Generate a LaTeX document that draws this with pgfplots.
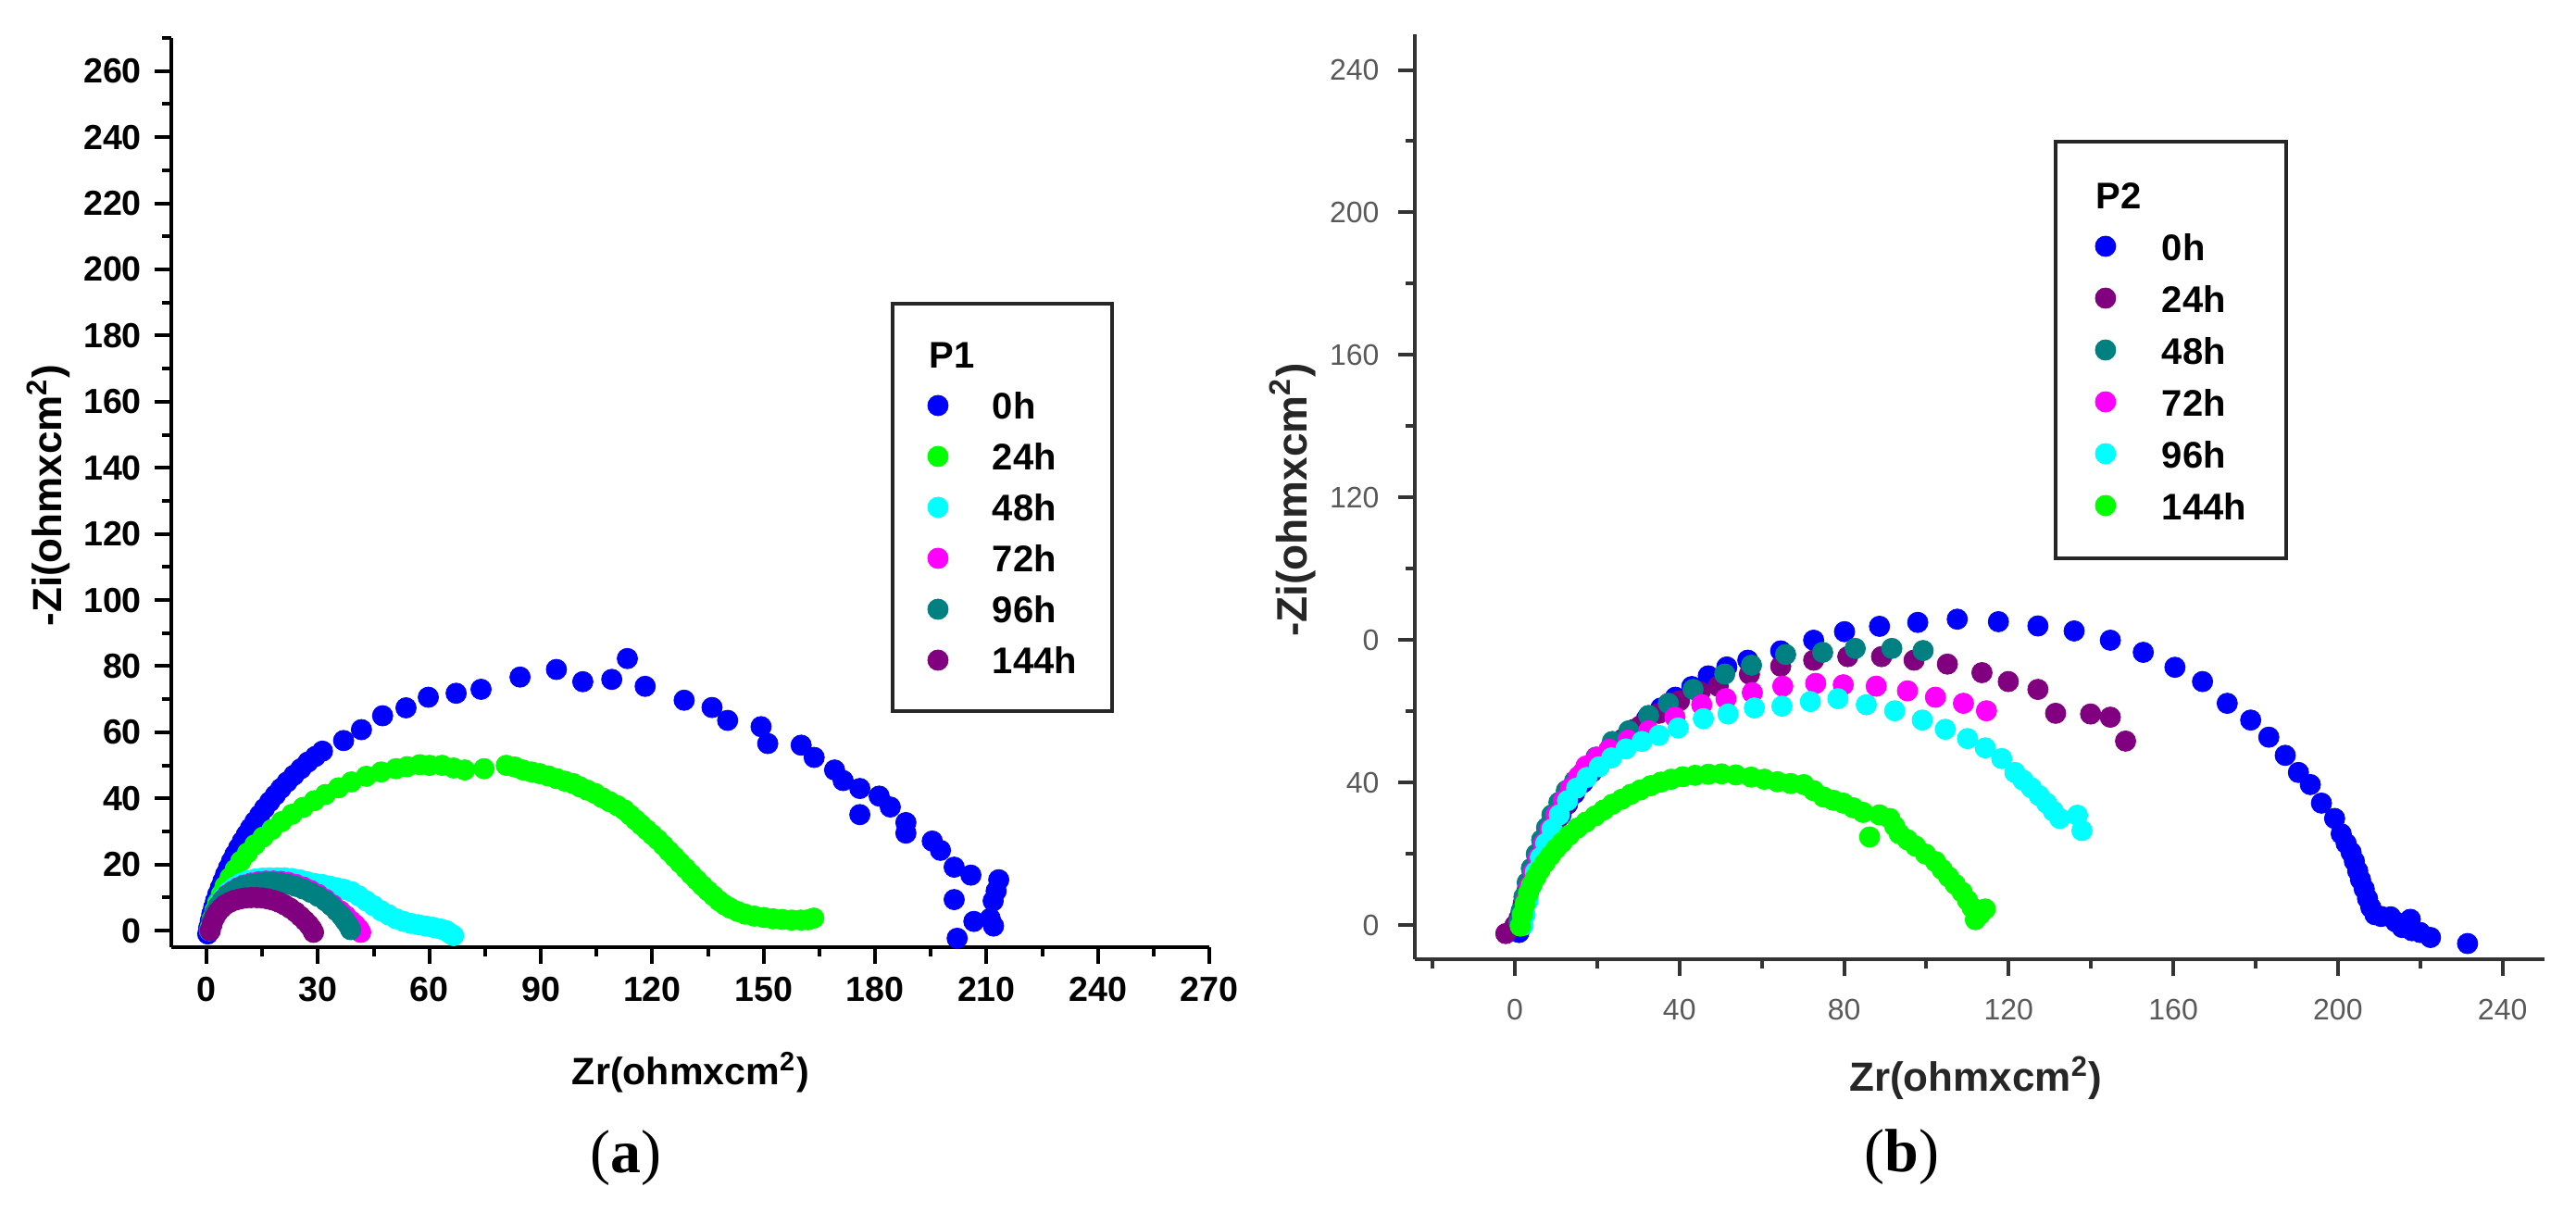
\documentclass[border=0pt]{standalone}
\usepackage{pgfplots}
\pgfplotsset{compat=1.18}
\usepackage{fontspec}
\setmainfont{Liberation Sans}
\newfontfamily\seriffont{Liberation Serif}
\definecolor{cBlue}{RGB}{0,0,255}
\definecolor{cGreen}{RGB}{0,255,0}
\definecolor{cCyan}{RGB}{0,255,255}
\definecolor{cMag}{RGB}{255,0,255}
\definecolor{cTeal}{RGB}{0,128,128}
\definecolor{cPurp}{RGB}{128,0,128}
\pgfplotsset{
  every axis plot/.append style={only marks, mark=*, mark size=2.75pt, mark options={line width=0.2pt}},
  legend image code/.code={\draw[#1] plot coordinates {(2.75pt,0pt)};},
}
\begin{document}
\begin{tikzpicture}
\useasboundingbox (0,0) rectangle (695.5pt,327pt);
% ---------------- (a) ----------------
\begin{axis}[
  at={(46.25pt,71.25pt)}, anchor=south west,
  scale only axis, width=280.25pt, height=245.5pt,
  xmin=-9.5, xmax=270, ymin=-5, ymax=270,
  axis lines*=left,
  axis line style={line width=1pt, black},
  tick style={line width=1pt, black},
  tick align=outside,
  major tick length=4.5pt, minor tick length=2.5pt,
  xtick={0,30,...,270}, minor xtick={15,45,...,255},
  ytick={0,20,...,260}, minor ytick={10,30,...,270},
  /pgf/number format/assume math mode=true,
  ticklabel style={font=\bfseries\fontsize{9.4}{11}\selectfont},
  xlabel={Zr(ohmxcm\textsuperscript{2})},
  ylabel={-Zi(ohmxcm\textsuperscript{2})},
  xlabel style={font=\bfseries\fontsize{10.3}{12}\selectfont, at={(axis description cs:0.5004,-0.1375)}, anchor=center},
  ylabel style={font=\bfseries\fontsize{11}{13}\selectfont, at={(axis description cs:-0.1186,0.497)}, anchor=center},
  clip=false,
  legend cell align=left,
  legend style={at={(axis description cs:0.6931,0.7098)}, anchor=north west,
    draw=black!85, line width=1pt, inner xsep=9.5pt, inner ysep=10pt,
    row sep=6.25pt, column sep=12pt,
    font=\bfseries\fontsize{10}{12}\selectfont,
    nodes={inner sep=0pt, text height=7.5pt, text depth=0pt}},
]
\addlegendimage{empty legend}
\addlegendentry{\makebox[0pt][l]{\hspace*{-17.5pt}P1}}
% 0h
\addplot[color=cBlue] coordinates {
(0.3,-1)(0.6,1)(1,3)(1.4,5)(1.9,7)(2.4,9)(3,11)(3.7,13)(4.4,15)(5.1,17)(5.9,19)(6.7,21)(7.6,23)(8.6,25)(9.6,27)(10.7,29)(11.8,31)(13,33)(14.3,35)(15.6,37)(17,39)(18.5,41)(20,43)(21.7,45)(23.5,47)(25.4,49)(27.3,51)(29.3,52.7)
(31.2,54.3)(36.9,57.5)(41.7,60.8)(47.4,65)(53.7,67.4)(59.7,70.6)(67.2,71.8)(73.9,73)(84.4,76.7)(94.2,79)(101.3,75.3)(109.1,76)(113.3,82.3)(118.1,73.9)(128.6,69.7)(136.1,67.5)(140.3,63.6)(149.3,61.7)(151.1,56.6)(160.1,56.1)(163.6,52.4)(169.1,48.6)(171.4,45.4)(175.9,43)(175.9,35.1)(181.1,40.7)(184.1,37.4)(188.3,32.7)(188.3,29.5)(195.4,27.1)(197.6,24.3)(201.3,19.2)(205.8,16.8)(213.3,15.4)(212.6,12)(201.3,9.4)(211.8,9)(211,3.7)(206.6,2.8)(211.9,1.4)(202.1,-2.3)
};
\addlegendentry{0h}
% 24h
\addplot[color=cGreen] coordinates {
(1,1)(1.5,3.5)(2.2,6)(3,8.5)(4,11)(5,13.5)(6.3,16)(7.7,18.5)(9.2,21)(11,23.5)(13,26)(15.2,28.3)(17.6,30.6)(20.2,33)(23,35.2)(26,37.3)(29,39.3)(32,41.2)(35.5,43.2)(39,45)(43,46.7)(47,48)(51,49)(54,49.6)(57.4,50.2)(60,50)(63.4,50)(66.5,49.2)(69.5,48.6)(74.7,49)(80.7,50)(83,49.5)(85.2,48.6)(87.5,48)(89.7,47.5)(92,46.8)(94.2,46)(96.5,45.2)(98.7,44.5)(100.5,43.5)(102.5,42.5)(104.6,41.5)(106.5,40.2)(108.5,39)(110.6,37.8)(112.5,36.5)(114,35)(115.5,33.5)(117,32)(118.5,30.5)(120,29)(121.5,27.5)(123,25.8)(124.5,24)(126,22.3)(127.5,20.5)(129,18.8)(130.5,17)(132,15.3)(133.5,13.6)(135,12)(136.5,10.5)(138,9)(139.5,7.8)(141,6.8)(143,5.8)(145,5)(147.5,4.4)(150,4)(152.5,3.6)(155,3.4)(157.5,3.2)(160,3.2)(162,3.3)(163.5,3.8)
};
\addlegendentry{24h}
% 48h
\addplot[color=cCyan] coordinates {
(0.8,0)(1.5,3)(2.3,5.5)(3.3,8)(4.5,10)(6,11.8)(7.5,13.2)(9.2,14.3)(11,15.1)(13,15.6)(15,15.9)(17,16)(19,16)(21,16)(23,15.8)(25,15.4)(27,14.8)(29,14.3)(31,14)(33,13.5)(35,13)(37,12.5)(39,11.8)(41,10.5)(43,9)(45,7.5)(47,6)(49,4.8)(51,3.6)(53,2.8)(55,2.2)(57,1.8)(59,1.4)(61,1)(63,0.5)(64.5,0)(65.5,-0.8)(66.5,-1.5)
};
\addlegendentry{48h}
% 72h
\addplot[color=cMag] coordinates {
(0.8,0)(1.5,3)(2.3,5.5)(3.2,7.5)(4.3,9.3)(5.5,10.8)(7,12)(8.5,13)(10,13.8)(12,14.4)(14,14.8)(16,15)(18,15)(20,14.9)(22,14.6)(24,14)(26,13.2)(28,12.2)(30,11)(32,9.5)(34,7.8)(36,6)(37.5,4.5)(38.8,3)(40,1.8)(41,0.5)(41.5,-0.5)
};
\addlegendentry{72h}
% 96h
\addplot[color=cTeal] coordinates {
(0.8,0)(1.5,3)(2.3,5.5)(3.2,7.5)(4.3,9.2)(5.5,10.6)(7,11.8)(8.5,12.8)(10,13.5)(12,14)(14,14.4)(16,14.6)(18,14.6)(20,14.4)(22,14)(24,13.4)(26,12.6)(28,11.6)(30,10.4)(32,9)(33.5,7.6)(35,6)(36.3,4.5)(37.3,3)(38.2,1.6)(38.8,0.3)
};
\addlegendentry{96h}
% 144h
\addplot[color=cPurp] coordinates {
(1,0)(1.5,2)(2.2,4)(3,5.5)(4,6.8)(5,7.8)(6.3,8.6)(7.6,9.2)(9,9.6)(10.5,9.9)(12,10)(13.5,10)(15,9.9)(16.5,9.6)(18,9.2)(19.5,8.6)(21,7.8)(22.5,6.8)(24,5.6)(25.3,4.3)(26.5,3)(27.5,1.8)(28.3,0.6)(28.8,-0.5)
};
\addlegendentry{144h}
\node[font=\seriffont\fontsize{16.5}{18}\selectfont] at (axis description cs:0.438,-0.2322) {(\textbf{a})};
\end{axis}
% ---------------- (b) ----------------
\begin{axis}[
  at={(382pt,68pt)}, anchor=south west,
  scale only axis, width=305.1pt, height=249.75pt,
  xmin=-24.3, xmax=250.3, ymin=-9.5, ymax=250,
  axis lines*=left,
  axis line style={line width=1pt, black!80},
  tick style={line width=1pt, black!80},
  tick align=outside,
  major tick length=4.5pt, minor tick length=2.5pt,
  xtick={0,40,...,240}, minor xtick={-20,20,...,220},
  ytick={0,40,...,240}, yticklabels={0,40,0,120,160,200,240},
  minor ytick={20,60,...,220},
  /pgf/number format/assume math mode=true,
  ticklabel style={font=\fontsize{8}{10}\selectfont, text=black!65},
  xticklabel style={yshift=-2.8pt},
  yticklabel style={xshift=-1.6pt},
  xlabel={Zr(ohmxcm\textsuperscript{2})},
  ylabel={-Zi(ohmxcm\textsuperscript{2})},
  xlabel style={font=\bfseries\fontsize{11}{13}\selectfont, text=black!85, at={(axis description cs:0.4965,-0.1281)}, anchor=center},
  ylabel style={font=\bfseries\fontsize{11.5}{13}\selectfont, text=black!85, at={(axis description cs:-0.1082,0.4965)}, anchor=center},
  clip=false,
  legend cell align=left,
  legend style={at={(axis description cs:0.5653,0.8859)}, anchor=north west,
    draw=black!85, line width=1pt, inner xsep=10.75pt, inner ysep=10.5pt,
    row sep=6.5pt, column sep=12.5pt,
    font=\bfseries\fontsize{10}{12}\selectfont,
    nodes={inner sep=0pt, text height=7.5pt, text depth=0pt}},
]
\addlegendimage{empty legend}
\addlegendentry{\makebox[0pt][l]{\hspace*{-18.25pt}P2}}
% 0h
\addplot[color=cBlue] coordinates {
(1,-2)(1.5,1)(2,4)(2.6,7)(3.3,10)(4,13)(5,16)(6,19)(7,22)(8.3,25)(9.7,28)(11.2,31)(12.8,34)(14.5,37)(16.5,40)(18.7,43)(21,46)(23.5,49)(26,52)(29,55)(32,58)(35.5,61)(39,64)(43,67)(47,70)(51.5,72.5)
(56.6,74.4)(64.6,77)(72.6,80)(80.1,82.4)(88.6,83.9)(97.9,85)(107.5,85.9)(117.5,85.2)(127.1,84)(135.9,82.6)(144.7,80)(152.7,76.6)(160.4,72.4)(167.1,68.4)(173.1,62.3)(178.8,57.6)(183.2,52.8)(187.2,47.7)(190.4,42.9)(193.3,39.5)(196,34.3)(199.2,30)(200.8,25.7)(202,23)(203.2,20.5)(204,18)(204.8,15.3)(205.5,12.8)(206.4,10.2)(207.2,7.5)(208,5)(209,3)(210.5,2.5)(212.8,2.4)(214,1)(215.6,-0.6)(217.6,1.7)(218,-1.5)(220,-2)(222.5,-3.4)(231.5,-5.1)
};
\addlegendentry{0h}
% 24h
\addplot[color=cPurp] coordinates {
(-2.2,-2.3)(0,0)(1,2)(2,6)(3,10)(4.2,14)(5.5,18)(7,22)(8.7,26)(10.5,30)(12.5,34)(14.8,38)(17.3,42)(20,45.5)(23,49)(26.5,52.5)(30.5,56)(35,59.5)(40,63)(45,65.5)(49.4,67.1)(57,70.5)(64.6,72.7)(72.6,74.4)(80.9,75.4)(89.1,75.4)(97,74.4)(105.1,73.3)(113.5,70.9)(119.9,68.4)(127.1,66.2)(131.4,59.5)(139.9,59.3)(144.7,58.4)(148.4,51.7)
};
\addlegendentry{24h}
% 48h
\addplot[color=cTeal] coordinates {
(1,1)(1.5,4)(2.2,8)(3,12)(4,16)(5.2,20)(6.5,24)(7.7,27.4)(9,31)(10.7,34.5)(12.5,37.8)(14.5,40.5)(16.5,42.9)(19.7,47.2)(23.7,51.6)(27.7,54.6)(32.5,58.9)(37.3,62.3)(43.3,66.2)(51,70.5)(57.5,73)(65.8,76)(74.8,76.6)(82.7,77.7)(91.6,77.7)(99.2,77.1)
};
\addlegendentry{48h}
% 72h
\addplot[color=cMag] coordinates {
(1.5,0)(2,3)(2.7,7)(3.5,11)(4.5,15)(5.7,19)(7,23)(8.5,27)(10,31)(11.8,35)(13.5,38.5)(15.5,41.8)(17.3,44.7)(20,47.2)(22.9,49.4)(27.5,52)(32.5,54.6)(38.9,58.4)(45.4,61.9)(51.3,63.6)(57.7,65.3)(65.1,67.1)(73.1,67.9)(79.8,67.5)(87.8,67.1)(95.4,65.8)(102.2,64)(109,62.3)(114.6,60.2)
};
\addlegendentry{72h}
% 96h
\addplot[color=cCyan] coordinates {
(2,0)(2.5,3)(3.2,7)(4,11)(5,15)(6.2,19)(7.5,23)(9,27)(10.8,31)(12.8,35)(15,38.5)(17.5,41.5)(20.5,44.5)(23.5,47)(27,49.5)(30.9,51.6)(35,53.3)(39.7,55.4)(45.8,58)(51.8,59.3)(58.2,61)(64.9,61.5)(71.8,62.8)(78.5,63.6)(85.4,61.9)(92.3,60.2)(99,57.6)(104.6,55)(110,52.4)(114.3,49.8)(118.3,46.8)(121.5,42.9)(123.5,40.7)(125.5,38.6)(127.4,36.4)(129.2,34.3)(130.8,32.1)(132.4,30)(136.7,30.9)(137.8,26.6)
};
\addlegendentry{96h}
% 144h
\addplot[color=cGreen] coordinates {
(1.3,-0.2)(1.8,3)(2.5,6)(3.3,9)(4.2,11.5)(5.1,13.5)(6.1,15.5)(7.3,17.5)(8.6,19.5)(10,21.5)(11.5,23.3)(13.2,25.3)(15.2,27.3)(17.3,29)(19.5,30.7)(21.6,32.4)(23.7,34)(26,35.4)(28.2,36.8)(30.5,38)(33,39.2)(35.5,40.2)(38,41)(40.8,41.7)(43.8,42.1)(47,42.4)(50.2,42.5)(53.7,42.2)(57.4,41.6)(60.6,41)(63.8,40.3)(67,39.8)(70.2,39.5)(72.6,37.8)(75,36)(77.4,35.1)(79.8,34.3)(82.2,33)(84.6,31.7)(86.2,24.8)(88.6,31)(91.1,30)(92.3,27.8)(93.4,25.7)(95.4,24)(97.4,22.2)(99.8,20)(102.2,17.9)(103.8,15.7)(105.4,13.6)(107,11.5)(108.7,9.3)(110,7)(111.1,5)(111.9,1.6)(113,3)(114.3,4.6)
};
\addlegendentry{144h}
\node[font=\seriffont\fontsize{16.5}{18}\selectfont] at (axis description cs:0.431,-0.2142) {(\textbf{b})};
\end{axis}
\end{tikzpicture}
\end{document}
